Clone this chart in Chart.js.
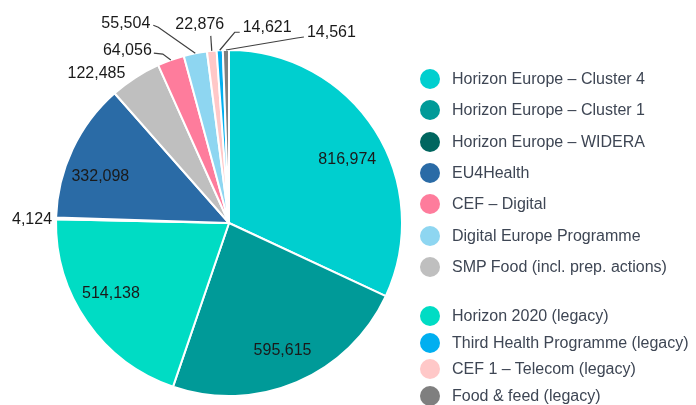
<!DOCTYPE html>
<html>
<head>
<meta charset="utf-8">
<script src="https://cdn.jsdelivr.net/npm/chart.js@4"></script>
<style>
  html, body { margin: 0; padding: 0; background: #fff; }
  #wrap { position: relative; width: 696px; height: 405px; font-family: Arial, "Liberation Sans", sans-serif; }
  #legend { position: absolute; left: 420px; top: 0; }
  .item { position: absolute; left: 0; height: 20px; white-space: nowrap; }
  .dot { position: absolute; left: 0; top: 0; width: 20px; height: 20px; border-radius: 50%; }
  .txt { position: absolute; left: 32px; top: 1px; font-size: 16px; line-height: 18px; color: #3e4654; }
</style>
</head>
<body>
<div id="wrap">
  <canvas id="pie" width="696" height="405"></canvas>
  <div id="legend"></div>
</div>
<script>
// slices in drawing order (clockwise from 12 o'clock)
const sliceNames = [
  'Horizon Europe – Cluster 4',
  'Horizon Europe – Cluster 1',
  'Horizon 2020 (legacy)',
  'Horizon Europe – WIDERA',
  'EU4Health',
  'SMP Food (incl. prep. actions)',
  'CEF – Digital',
  'Digital Europe Programme',
  'CEF 1 – Telecom (legacy)',
  'Third Health Programme (legacy)',
  'Food & feed (legacy)'
];
const sliceValues = [816974, 595615, 514138, 4124, 332098, 122485, 64056, 55504, 22876, 14621, 14561];
const sliceColors = ['#00cfcf', '#009a98', '#00dcc4', '#00665f', '#2a6ba6', '#bfbfbf', '#fe7c9c', '#8ed6f1', '#ffc8c8', '#00aff0', '#7f7f7f'];

// legend order and grouping
const legendNew = ['Horizon Europe – Cluster 4', 'Horizon Europe – Cluster 1', 'Horizon Europe – WIDERA', 'EU4Health', 'CEF – Digital', 'Digital Europe Programme', 'SMP Food (incl. prep. actions)'];
const legendLegacy = ['Horizon 2020 (legacy)', 'Third Health Programme (legacy)', 'CEF 1 – Telecom (legacy)', 'Food & feed (legacy)'];

// label placement: inside labels nudge from 0.79r, outside labels anchor + leader line
const labelStyle = [
  { inside: true, dx: 3, dy: 10 },
  { inside: true, dx: 0, dy: 2 },
  { inside: true, dx: -6, dy: -8 },
  { text: [-4, 1], align: 'right' },
  { inside: true, dx: -5, dy: 12 },
  { text: [-10, -4], align: 'right' },
  { text: [-19, -9], align: 'right', line: [[-8, -6], [-17, -7]] },
  { text: [-45, -30], align: 'right', line: [[-37, -26], [-42, -28]] },
  { text: [-12, -26], align: 'center', line: [[-1, -15]] },
  { text: [23, -23], align: 'left', line: [[15, -18], [20, -18]] },
  { text: [81, -17], align: 'left', line: [[71, -12], [78, -13]] }
];

const fmt = v => v.toLocaleString('en-US');

const labelPlugin = {
  id: 'sliceLabels',
  afterDatasetsDraw(chart) {
    const ctx = chart.ctx;
    const arcs = chart.getDatasetMeta(0).data;
    ctx.save();
    ctx.font = '16px Arial, "Liberation Sans", sans-serif';
    ctx.fillStyle = '#1a1a1a';
    ctx.textBaseline = 'middle';
    arcs.forEach((arc, i) => {
      const st = labelStyle[i];
      const { x, y, startAngle, endAngle, outerRadius } = arc.getProps(['x', 'y', 'startAngle', 'endAngle', 'outerRadius'], true);
      const mid = (startAngle + endAngle) / 2;
      const label = fmt(sliceValues[i]);
      if (st.inside) {
        const r = outerRadius * 0.79;
        ctx.textAlign = 'center';
        ctx.fillText(label, x + Math.cos(mid) * r + st.dx, y + Math.sin(mid) * r + st.dy);
        return;
      }
      const ax = x + Math.cos(mid) * outerRadius;
      const ay = y + Math.sin(mid) * outerRadius;
      if (st.line) {
        ctx.strokeStyle = '#404040';
        ctx.lineWidth = 1.2;
        ctx.beginPath();
        ctx.moveTo(ax, ay);
        st.line.forEach(p => ctx.lineTo(ax + p[0], ay + p[1]));
        ctx.stroke();
      }
      ctx.textAlign = st.align;
      ctx.fillText(label, ax + st.text[0], ay + st.text[1]);
    });
    ctx.restore();
  }
};

new Chart(document.getElementById('pie').getContext('2d'), {
  type: 'pie',
  data: {
    labels: sliceNames,
    datasets: [{
      data: sliceValues,
      backgroundColor: sliceColors,
      borderColor: '#ffffff',
      borderWidth: 2
    }]
  },
  options: {
    responsive: false,
    animation: false,
    layout: { padding: { left: 55, right: 293, top: 49, bottom: 8 } },
    plugins: {
      legend: { display: false },
      tooltip: { enabled: false }
    }
  },
  plugins: [labelPlugin]
});

// html legend
const legendEl = document.getElementById('legend');
function addItem(name, centerY) {
  const item = document.createElement('div');
  item.className = 'item';
  item.style.top = (centerY - 10) + 'px';
  const dot = document.createElement('div');
  dot.className = 'dot';
  dot.style.background = sliceColors[sliceNames.indexOf(name)];
  const txt = document.createElement('div');
  txt.className = 'txt';
  txt.textContent = name;
  item.appendChild(dot);
  item.appendChild(txt);
  legendEl.appendChild(item);
}
legendNew.forEach((n, i) => addItem(n, 79 + i * 31.3));
legendLegacy.forEach((n, i) => addItem(n, 316 + i * 26.7));
</script>
</body>
</html>
